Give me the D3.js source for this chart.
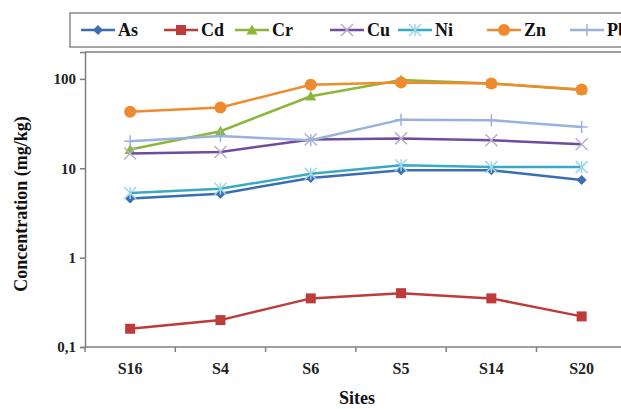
<!DOCTYPE html>
<html>
<head>
<meta charset="utf-8">
<script src="https://cdn.jsdelivr.net/npm/d3@7"></script>
<style>
  body { margin: 0; background: #fff; }
  svg { display: block; }
  svg text { font-family: "Liberation Serif", "Tinos", "Times New Roman", serif; }
</style>
</head>
<body>
<div id="chart"></div>
<script>
// chart data
const sites = ["S16", "S4", "S6", "S5", "S14", "S20"];
const asVals = [4.6, 5.2, 7.8, 9.5, 9.5, 7.4];
const cdVals = [0.16, 0.2, 0.35, 0.4, 0.35, 0.22];
const crVals = [16.2, 26, 64, 97, 89, 75];
const cuVals = [14.6, 15.2, 21, 21.6, 20.6, 18.6];
const niVals = [5.3, 5.9, 8.7, 10.8, 10.3, 10.3];
const znVals = [43, 48, 86, 91, 89, 76];
const pbVals = [20, 22.9, 20.6, 35, 34.5, 29];
const yTicks = [0.1, 1, 10, 100];

const series = [
    { name: "As", values: asVals, color: "#3B6DB3", marker: "diamond" },
    { name: "Cd", values: cdVals, color: "#BE3B3B", marker: "square" },
    { name: "Cr", values: crVals, color: "#8DB53C", marker: "triangle" },
    { name: "Cu", values: cuVals, color: "#6E4C9E", marker: "cross" },
    { name: "Ni", values: niVals, color: "#3AA9C4", marker: "star" },
    { name: "Zn", values: znVals, color: "#F08A2E", marker: "circle" },
    { name: "Pb", values: pbVals, color: "#98B2DC", marker: "plus" }
];

const width = 621, height = 409;
const plotLeft = 85, plotTop = 52, plotBottom = 347, step = 90.3;

const svg = d3.select("#chart").append("svg")
    .attr("width", width)
    .attr("height", height);

const x = d3.scaleBand()
    .domain(sites)
    .range([plotLeft, plotLeft + step * sites.length]);

const y = d3.scaleLog()
    .domain([0.1, 200])
    .range([plotBottom, plotTop]);

const axisColor = "#7f7f7f";

// frame: top line and left axis
svg.append("line")
    .attr("x1", plotLeft).attr("x2", width)
    .attr("y1", plotTop).attr("y2", plotTop)
    .attr("stroke", axisColor).attr("stroke-width", 1.5);

// y axis
const yAxis = svg.append("g")
    .attr("transform", `translate(${plotLeft},0)`)
    .call(d3.axisLeft(y)
        .tickValues(yTicks)
        .tickSize(5)
        .tickPadding(4)
        .tickFormat(d => d === 0.1 ? "0,1" : d));
yAxis.attr("font-family", null);
yAxis.select(".domain").attr("stroke", axisColor).attr("stroke-width", 1.5);
yAxis.selectAll(".tick line").attr("stroke", axisColor).attr("stroke-width", 1.5);
yAxis.selectAll("text")
    .attr("font-weight", "bold")
    .attr("font-size", 15)
    .attr("fill", "#222");

// x axis line
svg.append("line")
    .attr("x1", plotLeft).attr("x2", width)
    .attr("y1", plotBottom).attr("y2", plotBottom)
    .attr("stroke", axisColor).attr("stroke-width", 1.5);

// tick marks between categories
svg.append("g")
    .selectAll("line")
    .data(sites)
    .join("line")
    .attr("x1", d => x(d)).attr("x2", d => x(d))
    .attr("y1", plotBottom).attr("y2", plotBottom + 5)
    .attr("stroke", axisColor).attr("stroke-width", 1.5);

svg.append("g")
    .selectAll("text")
    .data(sites)
    .join("text")
    .attr("x", d => x(d) + x.bandwidth() / 2)
    .attr("y", plotBottom + 27)
    .attr("text-anchor", "middle")
    .attr("font-weight", "bold")
    .attr("font-size", 16)
    .attr("fill", "#222")
    .text(d => d);

// axis titles
svg.append("text")
    .attr("x", 357)
    .attr("y", 404)
    .attr("text-anchor", "middle")
    .attr("font-weight", "bold")
    .attr("font-size", 18)
    .attr("fill", "#111")
    .text("Sites");

svg.append("text")
    .attr("transform", "translate(27,204) rotate(-90)")
    .attr("text-anchor", "middle")
    .attr("font-weight", "bold")
    .attr("font-size", 18)
    .attr("fill", "#111")
    .text("Concentration (mg/kg)");

// marker drawing helper
function drawMarker(g, type, color, size) {
    const s = size;
    if (type === "diamond") {
        g.append("path").attr("d", `M0,${-s}L${s},0L0,${s}L${-s},0Z`).attr("fill", color);
    } else if (type === "square") {
        g.append("rect").attr("x", -s).attr("y", -s).attr("width", 2 * s).attr("height", 2 * s).attr("fill", color);
    } else if (type === "triangle") {
        g.append("path").attr("d", `M0,${-s}L${s},${s * 0.8}L${-s},${s * 0.8}Z`).attr("fill", color);
    } else if (type === "circle") {
        g.append("circle").attr("r", s).attr("fill", color);
    } else if (type === "cross") {
        g.append("path").attr("d", `M${-s},${-s}L${s},${s}M${-s},${s}L${s},${-s}`)
            .attr("stroke", "#b9aed0").attr("stroke-width", 1.5);
    } else if (type === "star") {
        g.append("path").attr("d", `M${-s},${-s}L${s},${s}M${-s},${s}L${s},${-s}M0,${-s}L0,${s}`)
            .attr("stroke", "#9fd6e6").attr("stroke-width", 1.5);
    } else if (type === "plus") {
        g.append("path").attr("d", `M0,${-s}L0,${s}M${-s},0L${s},0`)
            .attr("stroke", color).attr("stroke-width", 1.5);
    }
}

const markerSize = { diamond: 5, square: 5, triangle: 5.5, circle: 6, cross: 6, star: 6, plus: 6 };

const line = d3.line()
    .x((d, i) => x(sites[i]) + x.bandwidth() / 2)
    .y(d => y(d));

const lines = svg.append("g");
series.forEach(s => {
    lines.append("path")
        .datum(s.values)
        .attr("fill", "none")
        .attr("stroke", s.color)
        .attr("stroke-width", 2.5)
        .attr("d", line);
    s.values.forEach((v, i) => {
        const g = lines.append("g")
            .attr("transform", `translate(${x(sites[i]) + x.bandwidth() / 2},${y(v)})`);
        drawMarker(g, s.marker, s.color, markerSize[s.marker]);
    });
});

// legend
svg.append("rect")
    .attr("x", 70).attr("y", 13)
    .attr("width", 600).attr("height", 34)
    .attr("fill", "#fff")
    .attr("stroke", "#888").attr("stroke-width", 1.5);

const legendX = [81, 164, 235, 330, 398, 487, 570];
const legend = svg.append("g")
    .selectAll("g")
    .data(series)
    .join("g")
    .attr("transform", (d, i) => `translate(${legendX[i]},30)`);

legend.append("line")
    .attr("x1", 0).attr("x2", 34)
    .attr("stroke", d => d.color)
    .attr("stroke-width", 2.5);

legend.each(function (d) {
    const g = d3.select(this).append("g").attr("transform", "translate(17,0)");
    drawMarker(g, d.marker, d.color, markerSize[d.marker]);
});

legend.append("text")
    .attr("x", 37)
    .attr("y", 6)
    .attr("font-weight", "bold")
    .attr("font-size", 18)
    .attr("fill", "#111")
    .text(d => d.name);
</script>
</body>
</html>
